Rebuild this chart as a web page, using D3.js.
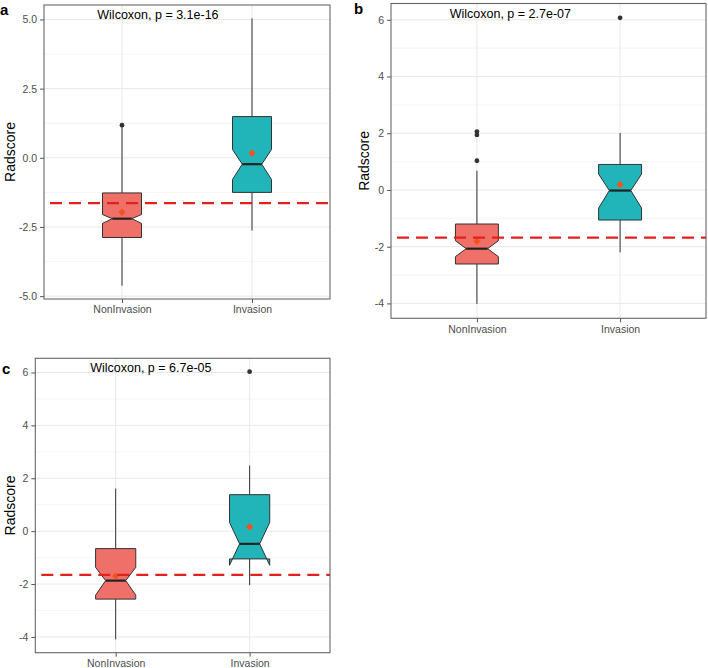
<!DOCTYPE html>
<html>
<head>
<meta charset="utf-8">
<script src="https://cdn.jsdelivr.net/npm/d3@7"></script>
<style>
  html, body { margin: 0; padding: 0; background: #ffffff; }
  svg { display: block; font-family: "Liberation Sans", Arial, Helvetica, sans-serif; }
</style>
</head>
<body>
<svg id="chart" width="708" height="668"></svg>
<script>
// ---------------- data ----------------
const categories = ["NonInvasion", "Invasion"];
const panelLabels = ["a", "b", "c"];
const pValueLabels = ["Wilcoxon, p = 3.1e-16", "Wilcoxon, p = 2.7e-07", "Wilcoxon, p = 6.7e-05"];
const cutoffValues = [-1.64, -1.68, -1.65];

const yTicksA = [-5, -2.5, 0, 2.5, 5];
const yTickLabelsA = ["-5.0", "-2.5", "0.0", "2.5", "5.0"];
const yTicksB = [-4, -2, 0, 2, 4, 6];
const yTickLabelsB = ["-4", "-2", "0", "2", "4", "6"];
const yTicksC = [-4, -2, 0, 2, 4, 6];
const yTickLabelsC = ["-4", "-2", "0", "2", "4", "6"];

// panel a
const whiskerLowA  = [-4.62, -2.63];
const q1A          = [-2.88, -1.25];
const medianA      = [-2.20, -0.23];
const q3A          = [-1.27,  1.49];
const whiskerHighA = [ 1.12,  5.04];
const notchLowA    = [-2.37, -0.78];
const notchHighA   = [-2.05,  0.30];
const meanA        = [-1.97,  0.17];
const outliersA    = [[1.18], []];

// panel b
const whiskerLowB  = [-4.02, -2.20];
const q1B          = [-2.61, -1.06];
const medianB      = [-2.07, -0.02];
const q3B          = [-1.20,  0.90];
const whiskerHighB = [ 0.68,  2.01];
const notchLowB    = [-2.35, -0.64];
const notchHighB   = [-1.79,  0.56];
const meanB        = [-1.81,  0.19];
const outliersB    = [[2.06, 1.94, 1.03], [6.07]];

// panel c
const whiskerLowC  = [-4.09, -2.04];
const q1C          = [-2.57, -1.05];
const medianC      = [-1.87, -0.48];
const q3C          = [-0.66,  1.38];
const whiskerHighC = [ 1.61,  2.48];
const notchLowC    = [-2.42, -1.29];
const notchHighC   = [-1.37,  0.33];
const meanC        = [-1.70,  0.16];
const outliersC    = [[], [6.03]];

// ---------------- layout / style ----------------
const panelBoxes = [
  { x0: 44,   x1: 330, y0: 5,     y1: 299,   labX: 0,   labY: 15,  titleX: 10 },
  { x0: 391,  x1: 706, y0: 3.5,   y1: 318.3, labX: 354, labY: 14,  titleX: 364 },
  { x0: 35.3, x1: 330, y0: 358.3, y1: 652.7, labX: 2,   labY: 374, titleX: 10 }
];
const fills = ["#EF7068", "#21B5B9"];
const meanColor = "#F4511E";
const cutoffColor = "#E3211C";

const panels = [
  { ticks: yTicksA, tickLabels: yTickLabelsA, wl: whiskerLowA, q1: q1A, med: medianA, q3: q3A, wh: whiskerHighA, nl: notchLowA, nh: notchHighA, mean: meanA, out: outliersA },
  { ticks: yTicksB, tickLabels: yTickLabelsB, wl: whiskerLowB, q1: q1B, med: medianB, q3: q3B, wh: whiskerHighB, nl: notchLowB, nh: notchHighB, mean: meanB, out: outliersB },
  { ticks: yTicksC, tickLabels: yTickLabelsC, wl: whiskerLowC, q1: q1C, med: medianC, q3: q3C, wh: whiskerHighC, nl: notchLowC, nh: notchHighC, mean: meanC, out: outliersC }
];

const svg = d3.select("#chart");

panels.forEach((p, pi) => {
  const box = panelBoxes[pi];
  const allVals = [].concat(p.wl, p.wh, ...p.out);
  const lo = d3.min(allVals), hi = d3.max(allVals);
  const pad = (hi - lo) * 0.05;
  const y = d3.scaleLinear().domain([lo - pad, hi + pad]).range([box.y1, box.y0]);
  const x = d3.scalePoint().domain(categories).range([box.x0, box.x1]).padding(0.6);
  const unit = x.step();
  const boxW = 0.3 * unit;

  const g = svg.append("g");

  // grid - minor
  const minor = [];
  for (let i = 0; i < p.ticks.length - 1; i++) minor.push((p.ticks[i] + p.ticks[i + 1]) / 2);
  const tStep = p.ticks[1] - p.ticks[0];
  const beyondLow = p.ticks[0] - tStep / 2, beyondHigh = p.ticks[p.ticks.length - 1] + tStep / 2;
  if (beyondLow >= y.domain()[0]) minor.push(beyondLow);
  if (beyondHigh <= y.domain()[1]) minor.push(beyondHigh);
  g.selectAll(".minor").data(minor).join("line")
    .attr("x1", box.x0).attr("x2", box.x1)
    .attr("y1", d => y(d)).attr("y2", d => y(d))
    .attr("stroke", "#F0F0F0").attr("stroke-width", 0.7);
  // grid - major
  g.selectAll(".majorY").data(p.ticks).join("line")
    .attr("x1", box.x0).attr("x2", box.x1)
    .attr("y1", d => y(d)).attr("y2", d => y(d))
    .attr("stroke", "#E8E8E8").attr("stroke-width", 1);
  g.selectAll(".majorX").data(categories).join("line")
    .attr("x1", d => x(d)).attr("x2", d => x(d))
    .attr("y1", box.y0).attr("y2", box.y1)
    .attr("stroke", "#E8E8E8").attr("stroke-width", 1);

  // whiskers
  categories.forEach((c, i) => {
    g.append("line").attr("x1", x(c)).attr("x2", x(c))
      .attr("y1", y(p.q3[i])).attr("y2", y(p.wh[i]))
      .attr("stroke", "#333").attr("stroke-width", 1);
    g.append("line").attr("x1", x(c)).attr("x2", x(c))
      .attr("y1", y(p.q1[i])).attr("y2", y(p.wl[i]))
      .attr("stroke", "#333").attr("stroke-width", 1);
  });

  // notched boxes
  categories.forEach((c, i) => {
    const xmin = x(c) - boxW / 2, xmax = x(c) + boxW / 2;
    const inset = boxW * 0.25;
    const pts = [
      [xmin, y(p.q3[i])], [xmin, y(p.nh[i])], [xmin + inset, y(p.med[i])], [xmin, y(p.nl[i])], [xmin, y(p.q1[i])],
      [xmax, y(p.q1[i])], [xmax, y(p.nl[i])], [xmax - inset, y(p.med[i])], [xmax, y(p.nh[i])], [xmax, y(p.q3[i])]
    ];
    g.append("path").attr("d", d3.line()(pts) + "Z")
      .attr("fill", fills[i]).attr("stroke", "#333").attr("stroke-width", 1)
      .attr("stroke-linejoin", "miter");
    g.append("line").attr("x1", xmin + inset).attr("x2", xmax - inset)
      .attr("y1", y(p.med[i])).attr("y2", y(p.med[i]))
      .attr("stroke", "#222").attr("stroke-width", 2.2);
    // outliers
    g.selectAll(null).data(p.out[i]).join("circle")
      .attr("cx", x(c)).attr("cy", d => y(d)).attr("r", 2.4).attr("fill", "#333");
    // mean diamond
    const my = y(p.mean[i]), mx = x(c), s = 3.6;
    g.append("path").attr("d", `M${mx},${my - s}L${mx + s},${my}L${mx},${my + s}L${mx - s},${my}Z`)
      .attr("fill", meanColor);
  });

  // cutoff dashed line
  g.append("line").attr("x1", box.x0).attr("x2", box.x1)
    .attr("y1", y(cutoffValues[pi])).attr("y2", y(cutoffValues[pi]))
    .attr("stroke", cutoffColor).attr("stroke-width", 2.2)
    .attr("stroke-dasharray", "12,7").attr("stroke-dashoffset", 13);

  // panel border
  g.append("rect").attr("x", box.x0).attr("y", box.y0)
    .attr("width", box.x1 - box.x0).attr("height", box.y1 - box.y0)
    .attr("fill", "none").attr("stroke", "#666").attr("stroke-width", 1.1);

  // axes
  const yAxis = d3.axisLeft(y).tickValues(p.ticks).tickSize(4).tickPadding(3)
    .tickFormat((d, i) => p.tickLabels[i]);
  const ya = g.append("g").attr("transform", `translate(${box.x0},0)`).call(yAxis);
  ya.select(".domain").remove();
  ya.selectAll("line").attr("stroke", "#555");
  ya.selectAll("text").attr("fill", "#4D4D4D").attr("font-size", 10.5)
    .style("font-family", "'Liberation Sans', Arial, sans-serif");

  const xAxis = d3.axisBottom(x).tickSize(4).tickPadding(3);
  const xa = g.append("g").attr("transform", `translate(0,${box.y1})`).call(xAxis);
  xa.select(".domain").remove();
  xa.selectAll("line").attr("stroke", "#555");
  xa.selectAll("text").attr("fill", "#4D4D4D").attr("font-size", 10.5)
    .style("font-family", "'Liberation Sans', Arial, sans-serif");

  // y title
  g.append("text")
    .attr("transform", `translate(${box.titleX},${(box.y0 + box.y1) / 2}) rotate(-90)`)
    .attr("text-anchor", "middle").attr("dominant-baseline", "central")
    .attr("font-size", 14).attr("fill", "#000").text("Radscore");

  // p-value label
  g.append("text")
    .attr("x", box.x0 + (0.81 - 0.4) * unit).attr("y", box.y0 + 10)
    .attr("dominant-baseline", "central")
    .attr("font-size", 12.5).attr("fill", "#000").text(pValueLabels[pi]);

  // panel letter
  g.append("text").attr("x", box.labX).attr("y", box.labY)
    .attr("font-size", 15).attr("font-weight", "bold").attr("fill", "#000")
    .text(panelLabels[pi]);
});
</script>
</body>
</html>
